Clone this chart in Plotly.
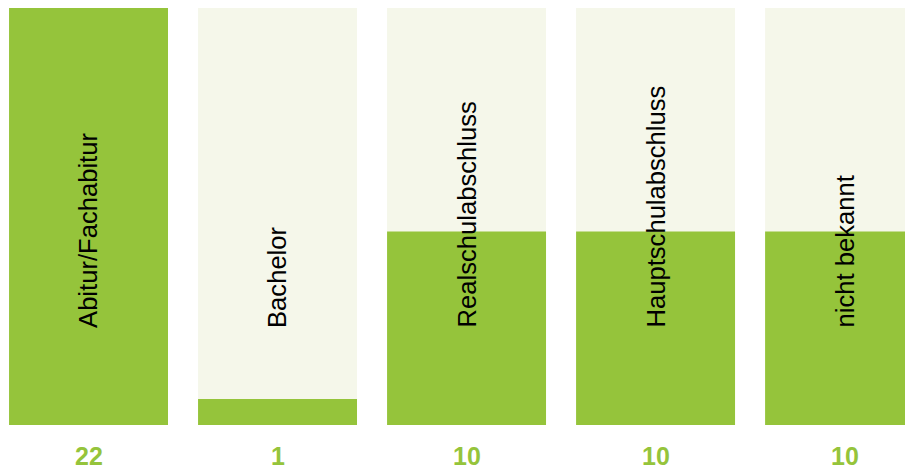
import plotly.graph_objects as go

categories = ["Abitur/Fachabitur", "Bachelor", "Realschulabschluss", "Hauptschulabschluss", "nicht bekannt"]
values = [22, 1, 10, 10, 10]

GREEN = "#95c43b"
BEIGE = "#f5f7ea"
ymax = max(values)
ymin = -0.393

x = list(range(len(categories)))

fig = go.Figure()
fig.add_trace(go.Bar(x=x, y=[ymax - ymin] * len(x), base=ymin, marker_color=BEIGE,
                     marker_line_width=0, width=0.841, hoverinfo="skip"))
fig.add_trace(go.Bar(x=x, y=[v - ymin for v in values], base=ymin, marker_color=GREEN,
                     marker_line_width=0, width=0.841, hoverinfo="skip"))

for i, (c, v) in enumerate(zip(categories, values)):
    fig.add_annotation(x=i, y=0.228, xref="x", yref="paper", text=c, textangle=-90,
                       showarrow=False, xanchor="center", yanchor="bottom",
                       font=dict(family="Liberation Sans, Arial", size=25.6, color="#000000"))
    fig.add_annotation(x=i, y=0, xref="x", yref="paper", text="<b>%d</b>" % v,
                       showarrow=False, xanchor="center", yanchor="middle", yshift=-31,
                       font=dict(family="Liberation Sans, Arial", size=25, color=GREEN))

fig.update_layout(
    width=905, height=464,
    margin=dict(l=0, r=0, t=0, b=47),
    barmode="overlay",
    showlegend=False,
    plot_bgcolor="white", paper_bgcolor="white",
    xaxis=dict(range=[-0.426, 4.362], visible=False, fixedrange=True),
    yaxis=dict(range=[ymin, ymax], visible=False, fixedrange=True),
)

fig.write_html("out.html", config={"displayModeBar": False})
